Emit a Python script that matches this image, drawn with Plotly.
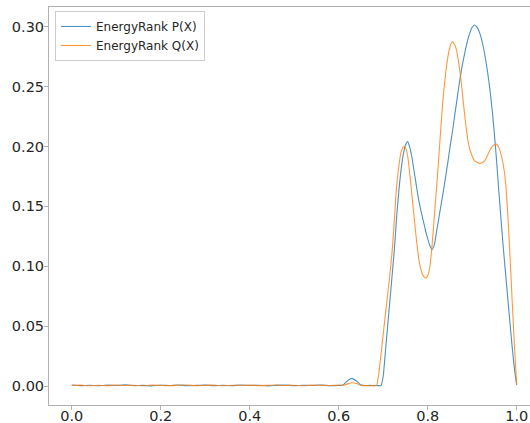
import plotly.graph_objects as go

# ---- data ----
x_values = [
    0.00, 0.02, 0.04, 0.06, 0.08, 0.10, 0.12, 0.14, 0.16, 0.18,
    0.20, 0.22, 0.24, 0.26, 0.28, 0.30, 0.32, 0.34, 0.36, 0.38,
    0.40, 0.42, 0.44, 0.46, 0.48, 0.50, 0.52, 0.54, 0.56, 0.58,
    0.60, 0.61, 0.62, 0.63, 0.64, 0.65, 0.66, 0.67, 0.68,
    0.685, 0.690, 0.695, 0.700, 0.705, 0.710, 0.715, 0.720, 0.725, 0.730,
    0.735, 0.740, 0.745, 0.750, 0.755, 0.760, 0.765, 0.770, 0.775, 0.780,
    0.785, 0.790, 0.795, 0.800, 0.805, 0.810, 0.815, 0.820, 0.825, 0.830,
    0.835, 0.840, 0.845, 0.850, 0.855, 0.860, 0.865, 0.870, 0.875, 0.880,
    0.885, 0.890, 0.895, 0.900, 0.905, 0.910, 0.915, 0.920, 0.925, 0.930,
    0.935, 0.940, 0.945, 0.950, 0.955, 0.960, 0.965, 0.970, 0.975, 0.980,
    0.985, 0.990, 0.995, 1.000,
]

p_values = [
    0.0008, 0.0003, 0.0006, 0.0002, 0.0007, 0.0004, 0.0009, 0.0003, 0.0005, 0.0001,
    0.0006, 0.0004, 0.0008, 0.0002, 0.0005, 0.0007, 0.0003, 0.0006, 0.0002, 0.0008,
    0.0004, 0.0006, 0.0001, 0.0005, 0.0007, 0.0003, 0.0006, 0.0004, 0.0008, 0.0003,
    0.0005, 0.0009, 0.0045, 0.0064, 0.0042, 0.0008, 0.0004, 0.0005, 0.0003,
    0.0004, 0.0003, 0.0004, 0.008, 0.029, 0.050, 0.071, 0.092, 0.1135, 0.140,
    0.162, 0.180, 0.193, 0.201, 0.204, 0.199, 0.190, 0.178, 0.166, 0.155,
    0.146, 0.138, 0.130, 0.123, 0.117, 0.114, 0.118, 0.129, 0.140, 0.151,
    0.162, 0.174, 0.186, 0.199, 0.211, 0.224, 0.237, 0.250, 0.262, 0.272,
    0.281, 0.289, 0.295, 0.2995, 0.3014, 0.300, 0.2965, 0.291, 0.283, 0.273,
    0.261, 0.247, 0.230, 0.210, 0.187, 0.162, 0.138, 0.115, 0.094, 0.073,
    0.0523, 0.032, 0.014, 0.0008,
]

q_values = [
    0.0004, 0.0007, 0.0002, 0.0006, 0.0003, 0.0008, 0.0004, 0.0006, 0.0002, 0.0007,
    0.0005, 0.0003, 0.0006, 0.0008, 0.0003, 0.0005, 0.0007, 0.0002, 0.0006, 0.0004,
    0.0007, 0.0003, 0.0005, 0.0008, 0.0004, 0.0006, 0.0002, 0.0007, 0.0005, 0.0004,
    0.0006, 0.0006, 0.0018, 0.0027, 0.0021, 0.0005, 0.0003, 0.0002, 0.0003,
    0.0004, 0.010, 0.026, 0.043, 0.060, 0.076, 0.093, 0.112, 0.138, 0.166,
    0.183, 0.195, 0.1995, 0.199, 0.192, 0.176, 0.158, 0.139, 0.121, 0.106,
    0.097, 0.092, 0.090, 0.092, 0.100, 0.118, 0.142, 0.166, 0.191, 0.218,
    0.242, 0.260, 0.274, 0.283, 0.2873, 0.2855, 0.280, 0.269, 0.255, 0.237,
    0.220, 0.206, 0.197, 0.192, 0.188, 0.187, 0.186, 0.186, 0.187, 0.189,
    0.193, 0.197, 0.200, 0.2015, 0.2018, 0.199, 0.193, 0.1845, 0.170, 0.143,
    0.108, 0.070, 0.033, 0.0008,
]

series_names = ["EnergyRank P(X)", "EnergyRank Q(X)"]
series_colors = ["#1f77b4", "#ff7f0e"]

x_tick_vals = [0.0, 0.2, 0.4, 0.6, 0.8, 1.0]
x_tick_text = ["0.0", "0.2", "0.4", "0.6", "0.8", "1.0"]
y_tick_vals = [0.00, 0.05, 0.10, 0.15, 0.20, 0.25, 0.30]
y_tick_text = ["0.00", "0.05", "0.10", "0.15", "0.20", "0.25", "0.30"]

# ---- figure ----
FONT = "DejaVu Sans"
fig = go.Figure()
for name, ys, col in zip(series_names, [p_values, q_values], series_colors):
    fig.add_trace(go.Scatter(
        x=x_values, y=ys, mode="lines", name=name, opacity=0.8,
        line=dict(color=col, width=1.1, shape="spline", smoothing=0.5),
    ))

axis_common = dict(
    showgrid=False, zeroline=False, showline=True, automargin=False,
    linecolor="#b0b0b0", linewidth=1,
    ticks="outside", ticklen=4, tickwidth=1, tickcolor="#b0b0b0",
    tickfont=dict(family=FONT, size=14.5, color="#262626"),
)

fig.update_layout(
    width=530, height=423,
    margin=dict(l=49, r=0, t=7, b=18, pad=0),
    paper_bgcolor="white", plot_bgcolor="white",
    font=dict(family=FONT, color="#262626"),
    showlegend=True,
    legend=dict(
        x=0.0125, y=0.99, xanchor="left", yanchor="top",
        bgcolor="rgba(255,255,255,0.8)", bordercolor="#cccccc", borderwidth=1,
        font=dict(family=FONT, size=12, color="#262626"),
    ),
    xaxis=dict(range=[-0.051, 1.0299], tickvals=x_tick_vals, ticktext=x_tick_text,
               mirror=True, ticklabelstandoff=-6, **axis_common),
    yaxis=dict(range=[-0.01586, 0.3164], tickvals=y_tick_vals, ticktext=y_tick_text,
               mirror=False, ticklabelstandoff=-3, **axis_common),
)

fig.write_html(
    "out.html",
    config={"displayModeBar": False},
    post_script="document.body.style.margin='0';document.body.style.overflow='hidden';",
)
